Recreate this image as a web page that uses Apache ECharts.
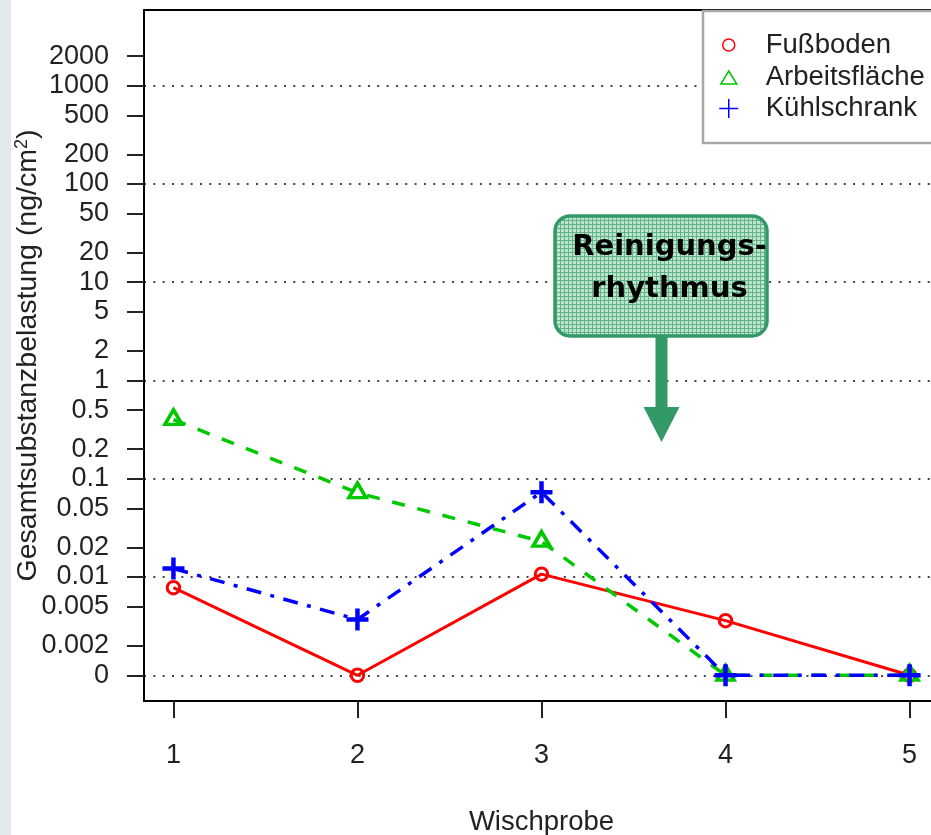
<!DOCTYPE html>
<html>
<head>
<meta charset="utf-8">
<script src="https://cdn.jsdelivr.net/npm/echarts@6/dist/echarts.min.js"></script>
<style>
  html, body { margin: 0; padding: 0; background: #ffffff; }
  #chart { width: 931px; height: 835px; }
</style>
</head>
<body>
<div id="chart"></div>
<script>
// Wischproben 1..5 und Gesamtsubstanzbelastung je Fläche (ng/cm²)
const samples = [1, 2, 3, 4, 5];
const fussboden = [0.0078, 0, 0.0107, 0.0036, 0];
const arbeitsflaeche = [0.4, 0.072, 0.023, 0, 0];
const kuehlschrank = [0.0122, 0.0037, 0.073, 0, 0];
const seriesNames = ['Fußboden', 'Arbeitsfläche', 'Kühlschrank'];

const xTickValues = [1, 2, 3, 4, 5];
const yTickValues = [0, 0.002, 0.005, 0.01, 0.02, 0.05, 0.1, 0.2, 0.5, 1, 2, 5, 10, 20, 50, 100, 200, 500, 1000, 2000];
const yTickLabels = ['0', '0.002', '0.005', '0.01', '0.02', '0.05', '0.1', '0.2', '0.5', '1', '2', '5', '10', '20', '50', '100', '200', '500', '1000', '2000'];
const gridValues = [0, 0.01, 0.1, 1, 10, 100, 1000];

const annotationLines = ['Reinigungs-', 'rhythmus'];

// Logarithmic placement; a value of zero sits one decade below 0.01
const ZERO_POS = 0.001;
const toLog = v => Math.log10(v > 0 ? v : ZERO_POS);
const Y_MIN = -3.2615;
const Y_MAX = 3.770;

const FONT = "'Liberation Sans', Arial, Helvetica, sans-serif";
const TEXT = '#222222';
const RED = '#ff0000';
const GREEN = '#00c800';
const BLUE = '#0000ff';
const ARROW_GREEN = '#339966';

const yTickLog = yTickValues.map(toLog);
const labelFor = v => {
  const i = yTickLog.findIndex(t => Math.abs(t - v) < 1e-6);
  return i >= 0 ? yTickLabels[i] : '';
};
const toPoints = values => samples.map((x, i) => [x, toLog(values[i])]);

// small grid tile used as the fill texture of the note box
const tile = document.createElement('canvas');
tile.width = 4; tile.height = 4;
const tg = tile.getContext('2d');
tg.fillStyle = '#bfe4cd';
tg.fillRect(0, 0, 4, 4);
tg.fillStyle = '#5fb587';
tg.fillRect(0, 0, 4, 1);
tg.fillRect(0, 0, 1, 4);

const plusPath = 'path://M0,10H20M10,0V20';

function legendEntry(name, icon, w, h, rowCenter, style) {
  const iconCenterX = 728;
  const left = iconCenterX - w / 2;
  const textStart = 765;
  return {
    data: [{ name: name, icon: icon, itemStyle: style }],
    orient: 'vertical',
    left: left,
    top: rowCenter - 14,
    padding: 0,
    itemWidth: w,
    itemHeight: h,
    selectedMode: false,
    z: 6,
    textStyle: {
      fontFamily: FONT, fontSize: 27.5, color: TEXT, lineHeight: 28,
      padding: [0, 0, 0, textStart - (left + w + 5)]
    }
  };
}

const chart = echarts.init(document.getElementById('chart'), null, { renderer: 'canvas' });

chart.setOption({
  animation: false,
  backgroundColor: '#ffffff',
  grid: {
    left: 144, right: -8, top: 10, bottom: 134,
    show: true, borderColor: '#000000', borderWidth: 2,
    backgroundColor: 'transparent',
    containLabel: false, outerBoundsMode: 'none'
  },
  xAxis: {
    type: 'value', min: 0.84, max: 5.16, position: 'bottom',
    name: 'Wischprobe', nameLocation: 'middle', nameGap: 107, nameMoveOverlap: false,
    nameTextStyle: { fontFamily: FONT, fontSize: 27.5, color: TEXT },
    axisLine: { show: true, onZero: false, lineStyle: { color: '#000000', width: 2 } },
    axisTick: { show: true, length: 17, customValues: xTickValues, lineStyle: { color: TEXT, width: 2 } },
    axisLabel: { customValues: xTickValues, margin: 41, fontFamily: FONT, fontSize: 27, color: TEXT },
    splitLine: { show: false }
  },
  yAxis: [
    {
      // dotted reference lines at each full decade
      type: 'value', min: Y_MIN, max: Y_MAX, position: 'left',
      axisLine: { show: false, onZero: false },
      axisLabel: { show: false },
      axisTick: { show: false, customValues: gridValues.map(toLog) },
      splitLine: { show: true, lineStyle: { color: '#444444', width: 2, type: [2, 7.33] } }
    },
    {
      type: 'value', min: Y_MIN, max: Y_MAX, position: 'left', offset: 0,
      name: '{t|Gesamtsubstanzbelastung (ng/cm}{s|2}{t|)}',
      nameLocation: 'middle', nameGap: 101, nameMoveOverlap: false,
      nameTextStyle: {
        rich: {
          t: { fontFamily: FONT, fontSize: 28.5, color: TEXT, lineHeight: 30 },
          s: { fontFamily: FONT, fontSize: 18, color: TEXT, verticalAlign: 'top', lineHeight: 18 }
        }
      },
      axisLine: { show: true, onZero: false, lineStyle: { color: '#000000', width: 2 } },
      axisTick: { show: true, inside: false, length: 17, customValues: yTickLog, lineStyle: { color: TEXT, width: 2 } },
      axisLabel: { show: true, customValues: yTickLog, formatter: labelFor, margin: 35, fontFamily: FONT, fontSize: 27, color: TEXT },
      splitLine: { show: false }
    }
  ],
  legend: [
    legendEntry(seriesNames[0], 'circle', 12, 12, 45, { color: 'rgba(255,0,0,0)', borderColor: RED, borderWidth: 1.5 }),
    legendEntry(seriesNames[1], 'triangle', 16, 13, 77.5, { color: 'rgba(0,200,0,0)', borderColor: GREEN, borderWidth: 1.5 }),
    legendEntry(seriesNames[2], plusPath, 19, 19, 108.5, { color: 'rgba(0,0,255,0)', borderColor: BLUE, borderWidth: 1.5 })
  ],
  series: [
    {
      name: seriesNames[0], type: 'line', yAxisIndex: 1,
      data: toPoints(fussboden),
      symbol: 'circle', symbolSize: 12.5,
      itemStyle: { color: 'rgba(255,0,0,0)', borderColor: RED, borderWidth: 3 },
      lineStyle: { color: RED, width: 3, type: 'solid' },
      z: 2
    },
    {
      name: seriesNames[1], type: 'line', yAxisIndex: 1,
      data: toPoints(arbeitsflaeche),
      symbol: 'triangle', symbolSize: [17, 14.5], symbolOffset: [0, -2.5],
      itemStyle: { color: 'rgba(0,200,0,0)', borderColor: GREEN, borderWidth: 3.5 },
      lineStyle: { color: GREEN, width: 3.5, type: [13, 13] },
      z: 3
    },
    {
      name: seriesNames[2], type: 'line', yAxisIndex: 1,
      data: toPoints(kuehlschrank),
      symbol: plusPath, symbolSize: 22,
      itemStyle: { color: 'rgba(0,0,255,0)', borderColor: BLUE, borderWidth: 4.5 },
      lineStyle: { color: BLUE, width: 3.5, type: [15, 9.5, 4, 9.5] },
      z: 4
    }
  ],
  graphic: [
    {
      type: 'rect', z: -10, silent: true,
      shape: { x: 0, y: 0, width: 11, height: 835 },
      style: { fill: '#e1e9ed' }
    },
    {
      // legend frame
      type: 'rect', z: 5, silent: true,
      shape: { x: 703, y: 11, width: 240, height: 132 },
      style: { fill: '#ffffff', stroke: '#a8a8a8', lineWidth: 2.5 }
    },
    {
      type: 'group', z: 20, silent: true,
      children: [
        {
          type: 'polygon', z: 20,
          shape: { points: [[655.5, 335], [667.5, 335], [667.5, 407], [679.5, 407], [661.5, 442], [643.5, 407], [655.5, 407]] },
          style: { fill: ARROW_GREEN }
        },
        {
          type: 'rect', z: 21,
          shape: { x: 555, y: 216, width: 212, height: 120, r: 15 },
          style: { fill: { image: tile, repeat: 'repeat' }, stroke: ARROW_GREEN, lineWidth: 3.5 }
        },
        {
          type: 'text', z: 22,
          style: {
            text: annotationLines[0], x: 669.5, y: 247, align: 'center', verticalAlign: 'middle',
            font: "bold 29px 'DejaVu Sans', Verdana, sans-serif", fill: '#000000'
          }
        },
        {
          type: 'text', z: 22,
          style: {
            text: annotationLines[1], x: 669.5, y: 289.5, align: 'center', verticalAlign: 'middle',
            font: "bold 29px 'DejaVu Sans', Verdana, sans-serif", fill: '#000000'
          }
        }
      ]
    }
  ]
});
</script>
</body>
</html>
